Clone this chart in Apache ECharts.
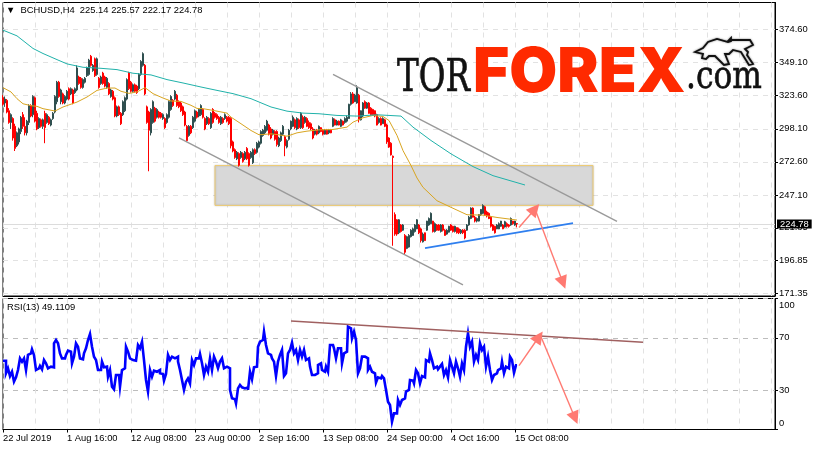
<!DOCTYPE html>
<html><head><meta charset="utf-8">
<script src="https://cdn.jsdelivr.net/npm/echarts@6/dist/echarts.min.js"></script>
<style>html,body{margin:0;padding:0;background:#fff}#c{width:815px;height:450px}</style>
</head><body><div id="c"></div>
<script>
const tickLabels=['22 Jul 2019','1 Aug 16:00','12 Aug 08:00','23 Aug 00:00','2 Sep 16:00','13 Sep 08:00','24 Sep 00:00','4 Oct 16:00','15 Oct 08:00'];
const priceTicks=[374.60,349.10,323.60,298.10,272.60,247.10,221.85,196.85,171.35];
const rsiTicks=[100,70,30,0];
const rsiLabelSpots=[95,70,30,5];
const rsiLevels=[70,30];
const lastPrice=224.78;
const headerText='BCHUSD,H4  225.14 225.57 222.17 224.78';
const rsiText='RSI(13) 49.1109';
const highs=[324,323,321,314,310,307,302,296,299,308,311,307,305,317,317,324,323,312,307,306,306,312,310,308,306,311,324,335,335,329,326,324,328,330,330,329,330,347,339,338,337,338,346,352,355,348,353,353,338,339,342,339,338,334,329,328,323,316,316,311,320,323,337,342,335,333,333,332,341,351,357,348,316,312,314,320,315,314,312,311,310,307,310,320,324,321,328,325,320,319,316,312,301,301,301,308,313,312,314,317,314,307,308,307,311,314,311,310,308,308,307,310,308,308,307,289,283,281,280,281,280,281,284,280,281,283,283,288,289,297,298,301,305,302,
299.4,298,297,297,292,296,301,293,290,298,304.5,308.4,306,307,306,311,308.4,308,307,304.5,303,299.4,298,298,300.7,299.4,298,298,298,298,298,307,306,305,304.5,305.8,304.5,307,308.4,317.4,326.4,326.4,325,331.6,325,312.3,318.7,320,318.7,318.7,314.8,313.5,312.3,309.7,307,307,307,305.8,302,291.6,287.8,277.5,233.7,228.5,228.5,224.7,224.7,217,215.7,217,220.8,222,224.7,228.5,224.7,222,218.2,218.2,227.2,229.8,233.7,227.2,226,224.7,224.7,224.7,224.7,220.8,220.8,223.4,224.7,223.4,223.4,222,222,220.8,220.8,220.8,224.7,231,237.6,237.6,231,229.8,232.4,236.3,240,238.8,235,233.7,231,224.7,223.4,224.7,226,227.2,224.7,227.2,226,224.7,229.8,227.2,227.2,225.57];
const lows=[316,315,310,302,298,289,281,284,286,294,298,293,293,301,307,307,303,297,298,299,298,287,302,301,300,305,310,317,322,317,317,317,320,320,324,317,325,327,332,329,329,333,338,339,346,342,338,339,329,332,332,330,329,324,322,320,307,307,308,301,308,311,320,328,326,326,326,325,328,339,346,324,302,265.4,293,302,303,306,306,306,305,298,302,306,312,315,320,315,314,311,308,300,288,292,294,298,303,306,307,308,306,297,301,301,298,302,306,305,302,301,302,305,303,301,283,280,275,274,269,275,272,274,274,269,275,271,278,279,283,286,292,294,296,293,
290,293,289,284.5,284,288,293,277,283,289,297,299.4,298,297,298,298,298,302,299.4,298,297,290,293,293,294,295.5,293,293.7,293.7,294,294.7,299.4,300.7,300.7,300.7,299.4,300.7,302,303,305.8,316,317.4,318.7,317.4,303,304.5,307,313.5,313.5,309.7,308.4,308.4,307,300.7,302,300.7,302,299.4,286.5,283.4,277.5,208,215.7,215.7,217,218.2,219.5,201.5,205.4,206.6,214.4,215.7,218.2,220.8,217,210.5,210.5,211.8,219.5,223.4,224.7,218.2,218.2,219.5,219.5,218.2,219,215.7,216.5,218.2,219.5,218.2,218.2,217.4,217,217,217,213,219.5,223.4,228.5,229.8,226,226,226.7,231,232.4,231,229.8,228.5,222,219.5,217.4,220.8,220.8,222.6,220.8,222,222,222,223.4,224.2,223.4,222.17];
const opens=[322,318,320,312,303,306,300,285,288,296,309,300,295,303,316,309,322,310,299,305,300,310,303,307,301,306,311,319,334,319,325,318,321,329,325,328,326,328,338,337,330,334,339,340,354,343,352,340,337,333,341,338,330,333,323,327,322,308,315,310,309,312,321,341,334,327,332,331,329,340,347,347,315,311,295,303,314,307,311,310,306,306,303,307,313,320,321,324,319,318,315,311,300,293,300,299,304,311,308,309,313,306,302,306,299,313,310,309,307,302,306,306,307,307,306,288,282,275,279,276,279,275,283,279,276,272,282,280,284,287,293,295,297,301,
298,294,296,296,285,289,294,292,284,290,298,300,305,298,305,299,307,303,306,303,302,298,294,297,295,299,297,294,297,295,297,300,305,301,304,300,304,303,304,306,317,325,319,318,324,305,308,319,314,318,314,313,312,309,303,306,302,305,301,291,287,277,232,228,218,224,220,216,206,207,215,216,219,221,224,221,211,218,220,224,225,227,219,224,224,219,224,220,217,218.5,224,223,219,222,221,218,220,220,220,224,229,237,230,227,227,232,233,238,234,233,230,224,223,221,221,223,224,222.5,225,224,224,227,224,225.14];
const closes=[317,321,311,303,309,291,283,295,298,307,300,295,304,316,308,323,304,298,306,300,305,299,309,302,305,310,323,334,323,328,318,323,327,321,329,318,329,345,333,330,336,337,345,351,347,347,339,352,330,338,333,331,337,325,328,321,308,315,309,302,319,322,336,329,327,332,327,326,340,350,356,325,303,297,313,319,304,313,307,307,309,299,309,319,323,316,327,316,315,312,309,301,289,300,295,307,312,307,313,316,307,298,307,302,310,303,307,306,303,307,303,309,304,302,285,281,276,280,270,280,273,280,275,270,280,282,279,287,288,296,297,300,304,294,
291,297,290,286,291,295,300,285,289,297,304,307,299,306,299,310,299,307,300,299,298,291,297,294,300,296,294,297,294,297,295,306,301,304,301,305,301,306,307,317,325,318,324,330,305,312,318,314,318,310,309,309,308,301,306,301,306,300,288,284,278,276,217,217,228,219,224,203,215,216,220,221,224,228,218,212,217,212,227,229,233,219,225,220,220,224,220,216,220,223,220,219,223,218,218,220,218,214,224,230,237,230,227,229,232,236,239,232,231,229,223,220,218,224,225,227,221,226.5,223,223,229,225,227,224.78];
const goldIdx=[0,4,7,10,14,17,20,26,30,37,42,47,52,56,59,63,67,71,75,80,84,89,94,97,100,105,112,114,119,124,128,134,137,142,147,152,158,165,172,175,180,185,190,193,197,200,204,207,210,217,224,232,240,247,257];
const goldVals=[329.8,326.5,321.3,317.4,315.9,315.4,313.6,311.8,314.9,318.7,322.6,327.7,329.5,329.5,327,325.4,326.5,329.8,325.2,321.8,319.5,319.2,316.2,313.8,313.6,312.3,310.2,307.1,302,296.8,293.5,294.2,293.7,292.4,295,296.3,297.3,297.6,299.4,303.2,306.6,308.4,307.6,304.5,293,281.3,269.8,260.2,253,242.7,237.6,231.9,231.6,229.8,227.8];
const tealIdx=[0,7,15,20,27,32,40,49,57,65,74,82,90,99,107,115,124,134,142,150,158,167,177,187,199,205,214,224,235,245,261];
const tealVals=[374.1,369.7,360,356.1,351.4,348.1,345.5,344.7,343.7,340.9,339.6,336,333.4,330.3,327.7,325.2,321.3,314.9,311.7,310.2,309.7,308.4,307.9,308.9,307.9,299.4,289.1,278.8,269,262,254.8];
const rsiVals=[52.5,52.5,42.9,46.7,40.8,44.1,36.5,39.8,45.4,54.3,51.8,54.3,45.4,56.9,58.1,61.2,56.9,45.4,46.7,48.5,45.9,53,50.5,46.7,48,47.5,65.8,68.3,65.8,58.1,54.3,54.3,56.9,60.2,59.4,50.5,55.6,65.8,63.2,54.3,53.6,58.1,62,68.3,72.9,63.2,55.6,53,45.4,45.4,51.8,47.5,48,40.3,45.4,32.7,30.7,41.6,41.6,32.7,45.4,46.7,63.2,59.4,54.3,53,52.5,52.5,64.5,62,67,53,37.8,28.9,45.4,40.3,44.9,44.1,45.4,42.9,42.4,37.3,42.4,56.9,53,55.6,54.3,55.6,51.8,45.4,37.8,30.2,36.5,39,35.2,53,49.2,54.3,54.3,57.6,50.5,41.6,48,44.1,54.3,45.4,55.6,51.8,46.7,51.8,54.3,46.7,48,46.7,30.2,23.8,23,20,31.4,34,32.2,31.4,32.2,30.2,44.1,38.3,47.5,48,63.2,67,68.3,74.7,64.5,58.1,
56.9,54.3,51.8,40.8,51.8,56.9,60.7,40.8,42.9,58.1,60.7,66.3,58.1,60.7,53,60.7,55.6,60.7,53,54.3,48,41.6,41.6,42.9,49.2,50.5,45.4,44.1,48,44.1,64.5,64.5,62,54.3,62,62,50.5,58.1,59.4,78.5,77.2,69.6,74.7,68.3,42.9,46.7,55.6,55.6,54.3,45.4,48,44.1,42.9,35.8,39.8,39,40.8,39,30.2,21.2,18.7,6,12.3,12.3,22.5,18.7,22.5,23.8,28.9,30.2,37.8,37.3,35.2,45.4,42.9,35.2,40.8,39.8,53,51.8,58.1,53,46.7,48,45.9,48,50,41.6,45.4,39.8,53,48,42.9,51.8,46.7,40.3,50.5,45.4,63.2,73.4,63.2,67,51.8,56.9,53,65.8,60.7,63.2,48,55.6,45.4,37.8,41.6,42.9,45.4,46.7,51.8,42.9,48,46.7,55.6,53,43.4,49.1];
const channelUpper=[[165,340.1],[307,226.8]];
const channelLower=[[88,291.2],[230,177.8]];
const blueTrend=[[211,206.2],[285,225.5]];
const rsiTrend=[[144,82.8],[320,66.6]];
const zoneX=[106,295];
const zoneY=[269.8,239.1];
const priceArrows=[[[258,222.1],[266,236.3]],[[266,236.3],[280,179.6]]];
const rsiArrows=[[[258,48.7],[268,70.8]],[[269,70.8],[286,8.8]]];

const N=387;
const cats=Array.from({length:N},(_,i)=>i);
const FONT='"Liberation Sans"';
const FS=9.4;
const GRID='#e2e2e2';
const candles=opens.map((o,i)=>[o,closes[i],lows[i],highs[i]]);
const pair=(a,b)=>a.map((x,i)=>[x,b[i]]);
const arrowLines=a=>a.map(s=>[{coord:s[0],symbol:'none'},{coord:s[1],symbol:'triangle'}]);
const trend=(name,data,color,w,xi,yi)=>({name,type:'line',data,xAxisIndex:xi,yAxisIndex:yi,symbol:'none',silent:true,z:4,lineStyle:{color,width:w},itemStyle:{color},animation:false});
const labelled=i=>i%32===0&&tickLabels[i/32]!==undefined;
const xa=(gi,label)=>({type:'category',gridIndex:gi,data:cats,boundaryGap:false,
  axisLine:{lineStyle:{color:'#000'}},
  axisTick:{show:label,interval:labelled,length:3,lineStyle:{color:'#000'}},
  axisLabel:{show:label,interval:labelled,align:'left',margin:4,color:'#000',fontFamily:FONT,fontSize:FS,
    formatter:v=>tickLabels[Number(v)/32]||''},
  splitLine:{show:true,interval:15,lineStyle:{color:GRID,type:[5,5]}}});
const bullOutline=[[695,52],[703,48],[708,42],[717,39],[728,42],[731,41],[731,38],[729,40],[750,40],[753,45],[745,49],[748,52],[747,55],[753,64],[749,65],[741,52],[733,50],[729,54],[725,54],[729,64],[724,65],[715,56],[709,56],[706,59],[702,58],[703,54]];
const option={
  animation:false,backgroundColor:'#fff',
  title:[
    {text:'\u25BC  '+headerText,left:6,top:5.5,padding:0,textStyle:{fontFamily:FONT,fontSize:FS,fontWeight:'normal',color:'#000'}},
    {text:rsiText,left:7,top:302.5,padding:0,textStyle:{fontFamily:FONT,fontSize:FS,fontWeight:'normal',color:'#000'}}
  ],
  grid:[
    {left:3,top:2.5,width:772,height:293.5,show:true,borderColor:'#000',borderWidth:1,backgroundColor:'transparent'},
    {left:3,top:298.5,width:772,height:131,show:true,borderColor:'#000',borderWidth:1,backgroundColor:'transparent'}
  ],
  xAxis:[xa(0,false),xa(1,true)],
  yAxis:[
    {type:'value',gridIndex:0,position:'right',min:169.3,max:395.4,
     axisLine:{show:true,lineStyle:{color:'#000'}},
     axisTick:{show:true,length:3,customValues:priceTicks,lineStyle:{color:'#000'}},
     axisLabel:{customValues:priceTicks,margin:4,align:'left',color:'#000',fontFamily:FONT,fontSize:FS,formatter:v=>v.toFixed(2)},
     splitLine:{show:true,customValues:priceTicks,lineStyle:{color:GRID,type:[5,5]}}},
    {type:'value',gridIndex:1,position:'right',min:0,max:100,
     axisLine:{show:true,lineStyle:{color:'#000'}},
     axisTick:{show:true,length:3,customValues:rsiTicks,lineStyle:{color:'#000'}},
     axisLabel:{customValues:rsiLabelSpots,margin:4,align:'left',color:'#000',fontFamily:FONT,fontSize:FS,
       formatter:v=>String(rsiTicks[rsiLabelSpots.indexOf(v)])},
     splitLine:{show:true,customValues:rsiLevels,lineStyle:{color:'#bdbdbd',type:[5,5]}}}
  ],
  series:[
    {name:'zone',type:'line',data:[],xAxisIndex:0,yAxisIndex:0,z:1,silent:true,
     markArea:{silent:true,itemStyle:{color:'#d8d8d8',borderColor:'#eecb72',borderWidth:1,shadowBlur:2,shadowColor:'rgba(0,0,0,0.2)'},
       data:[[{coord:[zoneX[0],zoneY[0]]},{coord:[zoneX[1],zoneY[1]]}]]}},
    {name:'BCHUSD',type:'candlestick',data:candles,xAxisIndex:0,yAxisIndex:0,barWidth:2,z:3,silent:true,
     itemStyle:{color:'#2f4f4f',color0:'#ff0000',borderColor:'#2f4f4f',borderColor0:'#ff0000',borderWidth:1},
     markLine:{silent:true,symbol:'none',z:2,data:[{yAxis:lastPrice,
       lineStyle:{color:'#dcdcdc',type:'solid',width:1},
       label:{show:true,position:'end',formatter:()=>lastPrice.toFixed(2),backgroundColor:'#000',color:'#fff',fontFamily:FONT,fontSize:FS,padding:[0,3,0,3],distance:2}}]}},
    trend('MA50',pair(goldIdx,goldVals),'#d9a520',1,0,0),
    trend('MA200',pair(tealIdx,tealVals),'#20b2aa',1,0,0),
    trend('channelUpper',channelUpper,'#9a9a9a',1.4,0,0),
    trend('channelLower',channelLower,'#9a9a9a',1.4,0,0),
    trend('support',blueTrend,'#2f7fef',1.8,0,0),
    {name:'arrowsPrice',type:'line',data:[],xAxisIndex:0,yAxisIndex:0,silent:true,z:5,
     markLine:{silent:true,symbolSize:13,label:{show:false},lineStyle:{color:'#ff7a72',type:'solid',width:1.4},itemStyle:{color:'#ff5a50'},data:arrowLines(priceArrows)}},
    {name:'RSI',type:'line',data:rsiVals,xAxisIndex:1,yAxisIndex:1,symbol:'none',z:3,silent:true,step:'middle',lineStyle:{color:'#0000ff',width:2.6,join:'miter'}},
    trend('rsiTrend',rsiTrend,'#a06060',1.4,1,1),
    {name:'arrowsRsi',type:'line',data:[],xAxisIndex:1,yAxisIndex:1,silent:true,z:5,
     markLine:{silent:true,symbolSize:13,label:{show:false},lineStyle:{color:'#ff7a72',type:'solid',width:1.4},itemStyle:{color:'#ff5a50'},data:arrowLines(rsiArrows)}}
  ],
  graphic:[
    {type:'text',x:397,y:58,z:20,scaleX:0.74,style:{text:'TOR',fill:'#111',stroke:'#111',lineWidth:0.7,font:'44px "DejaVu Serif"'}},
    {type:'text',x:473,y:42,z:20,style:{text:'FOREX',fill:'#ff2a00',font:'900 62px Inter'}},
    {type:'text',x:686,y:58,z:20,scaleX:0.78,style:{text:'.com',fill:'#111',stroke:'#111',lineWidth:0.7,font:'40px "DejaVu Serif"'}},
    {type:'polygon',z:20,shape:{points:bullOutline},style:{fill:'#fff',stroke:'#111',lineWidth:1.8,shadowBlur:2,shadowColor:'rgba(0,0,0,0.5)'}}
  ]
};
const chart=echarts.init(document.getElementById('c'),null,{renderer:'canvas',width:815,height:450});
chart.setOption(option);
</script></body></html>
